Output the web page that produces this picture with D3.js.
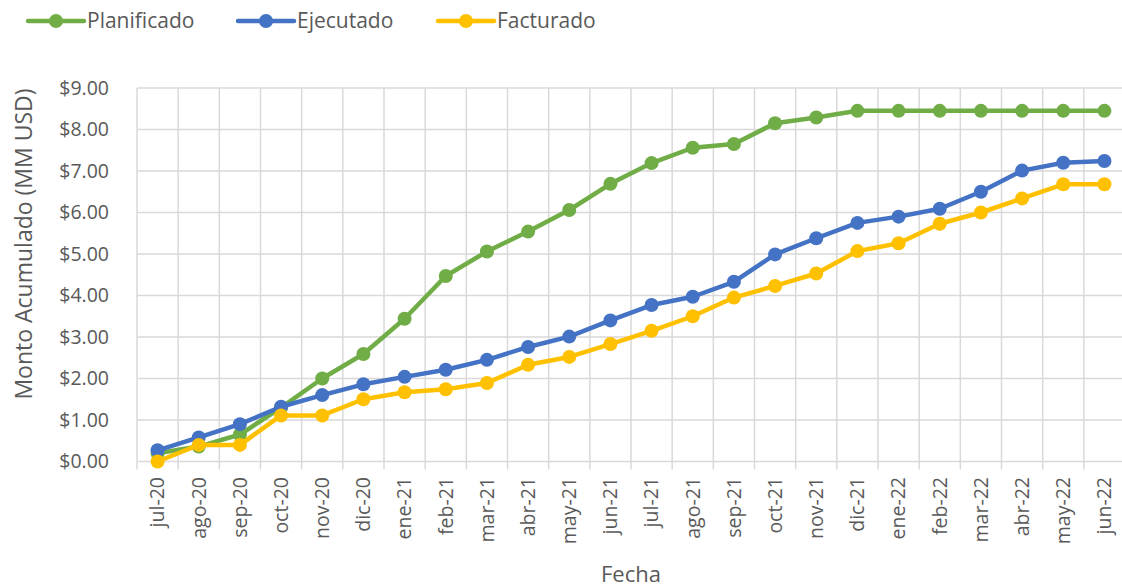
<!DOCTYPE html>
<html><head><meta charset="utf-8">
<script src="https://cdn.jsdelivr.net/npm/d3@7/dist/d3.min.js"></script>
<style>body{margin:0;background:#fff}svg{display:block}text{font-family:"Open Sans","Noto Sans",sans-serif;fill:#595959}</style>
</head><body><svg id="c" width="1122" height="588"></svg>
<script>
const categories=["jul-20","ago-20","sep-20","oct-20","nov-20","dic-20","ene-21","feb-21","mar-21","abr-21","may-21","jun-21","jul-21","ago-21","sep-21","oct-21","nov-21","dic-21","ene-22","feb-22","mar-22","abr-22","may-22","jun-22"];
const planificado=[0.20,0.36,0.65,1.30,2.00,2.59,3.44,4.47,5.06,5.54,6.06,6.69,7.19,7.56,7.65,8.15,8.29,8.45,8.45,8.45,8.45,8.45,8.45,8.45];
const ejecutado=[0.27,0.58,0.90,1.32,1.60,1.86,2.04,2.21,2.45,2.76,3.01,3.40,3.77,3.97,4.33,4.99,5.38,5.75,5.90,6.09,6.50,7.01,7.20,7.24];
const facturado=[0.00,0.40,0.40,1.11,1.11,1.50,1.67,1.74,1.89,2.33,2.52,2.83,3.15,3.50,3.95,4.23,4.53,5.07,5.26,5.73,6.00,6.34,6.68,6.68];
const yTicks=[0,1,2,3,4,5,6,7,8,9];
const seriesNames=["Planificado","Ejecutado","Facturado"];
const seriesColors=["#70AD47","#4472C4","#FFC000"];
const seriesData=[planificado,ejecutado,facturado];

const svg=d3.select("#c");
const L=137,R=1125,T=88,B=461.5;
const x=d3.scaleBand().domain(categories).range([L,R]);
const y=d3.scaleLinear().domain([0,9]).range([B,T]);

svg.append("g").selectAll("line").data(yTicks).join("line")
 .attr("x1",L).attr("x2",R).attr("y1",d=>y(d)).attr("y2",d=>y(d))
 .attr("stroke","#D9D9D9").attr("stroke-width",1.5);
const bounds=categories.map(c=>x(c)).concat([R]);
svg.append("g").selectAll("line").data(bounds).join("line")
 .attr("x1",d=>d).attr("x2",d=>d).attr("y1",T).attr("y2",B+8)
 .attr("stroke","#D9D9D9").attr("stroke-width",1.5);

svg.append("g").selectAll("text").data(yTicks).join("text")
 .attr("x",109).attr("y",d=>y(d)).attr("dy","0.35em").attr("text-anchor","end")
 .style("font-size","19.5px").text(d=>"$"+d.toFixed(2));

svg.append("g").selectAll("text").data(categories).join("text")
 .attr("transform",d=>`translate(${x(d)+x.bandwidth()/2},477) rotate(-90)`)
 .attr("dy","0.35em").attr("text-anchor","end")
 .style("font-size","19.5px").text(d=>d);

svg.append("text").attr("transform","translate(24,244) rotate(-90)").attr("text-anchor","middle")
 .attr("dy","0.35em").style("font-size","23px").text("Monto Acumulado (MM USD)");
svg.append("text").attr("x",631).attr("y",574).attr("text-anchor","middle").attr("dy","0.35em")
 .style("font-size","22px").text("Fecha");

const line=d3.line().x((d,i)=>x(categories[i])+x.bandwidth()/2).y(d=>y(d));
seriesData.forEach((data,k)=>{
 const g=svg.append("g");
 g.append("path").datum(data).attr("d",line).attr("fill","none")
  .attr("stroke",seriesColors[k]).attr("stroke-width",4.5).attr("stroke-linejoin","round");
 g.selectAll("circle").data(data).join("circle")
  .attr("cx",(d,i)=>x(categories[i])+x.bandwidth()/2).attr("cy",d=>y(d)).attr("r",7)
  .attr("fill",seriesColors[k]);
});

const legX=[28,238,438];
seriesNames.forEach((n,k)=>{
 const g=svg.append("g").attr("transform",`translate(${legX[k]},21)`);
 g.append("line").attr("x1",0).attr("x2",56).attr("stroke",seriesColors[k]).attr("stroke-width",4.5).attr("stroke-linecap","round");
 g.append("circle").attr("cx",28).attr("r",7).attr("fill",seriesColors[k]);
 g.append("text").attr("x",59).attr("dy","0.35em").style("font-size","21px").text(n);
});
</script></body></html>
